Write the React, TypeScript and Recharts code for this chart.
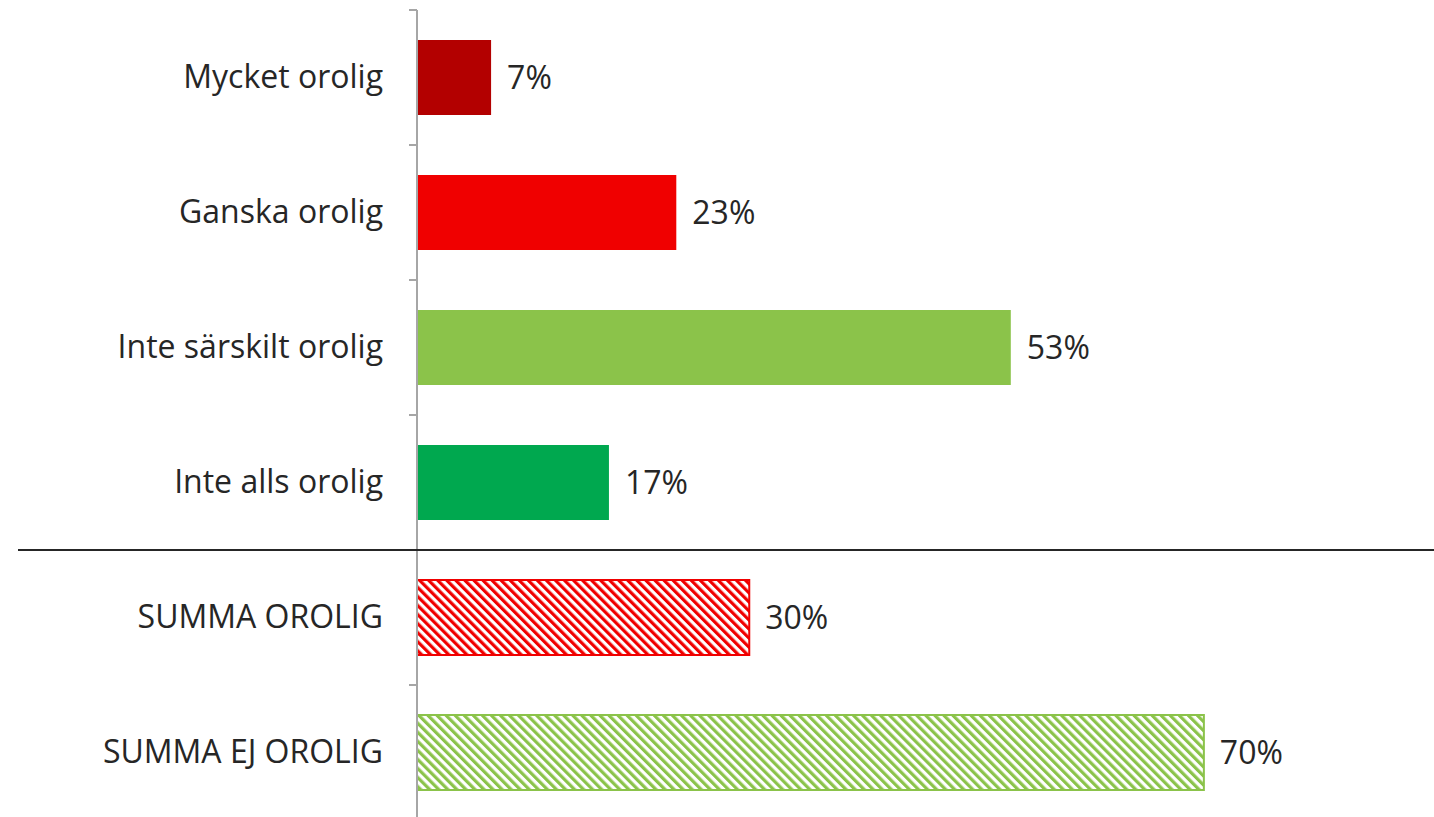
import React from "react";
import { BarChart, Bar, XAxis, YAxis, Cell, LabelList } from "recharts";

const categories = [
  "Mycket orolig",
  "Ganska orolig",
  "Inte särskilt orolig",
  "Inte alls orolig",
  "SUMMA OROLIG",
  "SUMMA EJ OROLIG",
];
const values = [6.6, 23.1, 52.9, 17.1, 29.6, 70.1];
const fills = ["#B30000", "#F00000", "#8BC34A", "#00A84F", "url(#hatchRed)", "url(#hatchGreen)"];
const strokes = ["none", "none", "none", "none", "#F00000", "#8BC34A"];

const data = categories.map((name, i) => ({ name, value: values[i] }));

const WIDTH = 1434;
const HEIGHT = 830;
const MARGIN = { top: 10, right: 119, bottom: 10, left: 0 };
const YAXIS_W = 417;
const BAND = (HEIGHT - MARGIN.top - MARGIN.bottom) / categories.length;
const FONT = "'Open Sans', 'Noto Sans', sans-serif";
const FONT_SIZE = 32;

const CategoryTick = (props: any) => {
  const { y, payload, index } = props;
  const half = BAND / 2;
  return (
    <g>
      <line x1={YAXIS_W - 8} x2={YAXIS_W} y1={y - half} y2={y - half} stroke="#A6A6A6" strokeWidth={2} />
      {index === categories.length - 1 && (
        <line x1={YAXIS_W - 8} x2={YAXIS_W} y1={y + half} y2={y + half} stroke="#A6A6A6" strokeWidth={2} />
      )}
      {index === 4 && (
        <line x1={18} x2={WIDTH} y1={y - half} y2={y - half} stroke="#262626" strokeWidth={2} />
      )}
      <text x={YAXIS_W - 34} y={y} dy={10} textAnchor="end" fill="#262626" fontSize={FONT_SIZE} fontFamily={FONT}>
        {payload.value}
      </text>
    </g>
  );
};

export default function App() {
  return (
    <div style={{ position: "absolute", left: 0, top: 0, width: WIDTH, height: 817, overflow: "hidden", background: "#fff" }}>
      <BarChart width={WIDTH} height={HEIGHT} data={data} layout="vertical" margin={MARGIN} barCategoryGap="22.2%">
        <defs>
          <pattern id="hatchRed" patternUnits="userSpaceOnUse" width={6.4} height={6.4} patternTransform="rotate(-45)">
            <rect width={6.4} height={6.4} fill="#fff" />
            <rect width={3.2} height={6.4} fill="#F00000" />
          </pattern>
          <pattern id="hatchGreen" patternUnits="userSpaceOnUse" width={6.4} height={6.4} patternTransform="rotate(-45)">
            <rect width={6.4} height={6.4} fill="#fff" />
            <rect width={3.2} height={6.4} fill="#8BC34A" />
          </pattern>
        </defs>
        <XAxis type="number" domain={[0, 80]} hide />
        <YAxis
          type="category"
          dataKey="name"
          width={YAXIS_W}
          axisLine={{ stroke: "#A6A6A6", strokeWidth: 2 }}
          tickLine={false}
          tick={<CategoryTick />}
          interval={0}
        />
        <Bar dataKey="value" isAnimationActive={false}>
          {data.map((d, i) => (
            <Cell key={d.name} fill={fills[i]} stroke={strokes[i]} strokeWidth={strokes[i] === "none" ? 0 : 2} />
          ))}
          <LabelList
            dataKey="value"
            position="right"
            offset={16}
            formatter={(v: any) => `${Math.round(Number(v))}%`}
            fill="#262626"
            fontSize={FONT_SIZE}
            fontFamily={FONT}
          />
        </Bar>
      </BarChart>
    </div>
  );
}
